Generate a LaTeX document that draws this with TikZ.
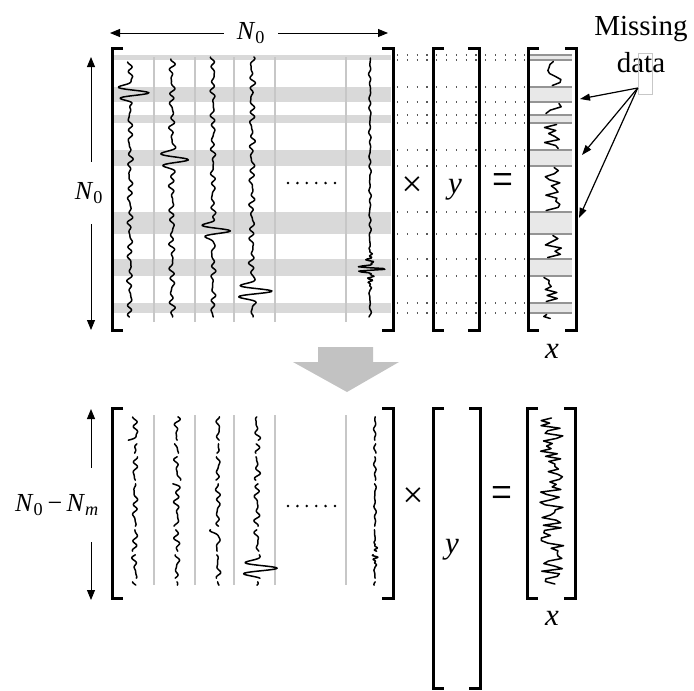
\documentclass[tikz,border=0pt]{standalone}
\usepackage{fontspec}
\setmainfont{Liberation Serif}
\usetikzlibrary{arrows.meta}

\newcommand\Nsym[1]{\textit{N}\textsubscript{#1}}

% removed rows (missing data) of the full matrix, top coordinates
\newcommand\bandlist{55/60,87/102,115/123,150/166,212/234,259/276,303/313}
% kept pieces of each column: start/end/vertical shift into the reduced matrix
\newcommand\keptlist{60/87/355,102/115/340,123/150/332,166/212/316,234/259/294,276/303/277,313/320/267}

\tikzset{
  declare function={
    wav(\vt,\vc,\va,\vk,\vw)=\va*exp(-min(((\vt-\vc)/\vw)*((\vt-\vc)/\vw),12))*cos(max(min(\vt-\vc,60),-60)*\vk);
    nz(\vt,\vn,\vp)=\vn*(sin((\vt-40)*31+\vp)+0.7*sin((\vt-40)*43+2*\vp)+0.6*sin((\vt-40)*13+3*\vp));
  },
  trace/.style={line width=1.5pt, line join=round, line cap=round},
  brk/.style={line width=3pt, line join=miter},
  guide/.style={draw=black!22, line width=1.4pt},
  band/.style={fill=black!15},
  xband/.style={fill=black!9},
  xbandedge/.style={draw=black!42, line width=1.3pt},
  dotrow/.style={draw=black!65, line width=1.2pt, dash pattern=on 1.2pt off 8.6pt},
  dimarrow/.style={-{Triangle[length=10pt,width=8pt]}, line width=1pt},
  ptrarrow/.style={-{Triangle[length=10pt,width=7pt]}, line width=1.2pt},
  lbl/.style={font=\fontsize{26}{31}\selectfont, inner sep=0pt},
  opsym/.style={font=\fontsize{37}{40}\selectfont, inner sep=0pt},
  vecname/.style={font=\fontsize{31}{36}\selectfont\itshape, inner sep=0pt},
}

% bracket pairs: x left, x right, y top, y bottom
\newcommand\brackets[4]{%
  \draw[brk] (#1+11,#3) -- (#1,#3) -- (#1,#4) -- (#1+11,#4);
  \draw[brk] (#2-11,#3) -- (#2,#3) -- (#2,#4) -- (#2-11,#4);
}

% one full column: x0, start, wavelet centre, amplitude, frequency, width, noise, phase, burst
\newcommand\toptrace[9]{%
  \draw[trace] plot[domain=#2:317, samples=300, variable=\vt]
    ({#1+wav(\vt,#3,#4,#5,#6)+nz(\vt,#7,#8)+wav(\vt,#3,#9,95,12)},{\vt});
}
% the same column with the missing rows taken out
\newcommand\bottrace[9]{%
  \foreach \ya/\yb/\sh in \keptlist {%
    \pgfmathsetmacro\lo{max(\ya+1.8,#2)}%
    \pgfmathsetmacro\hi{\yb-1.8}%
    \draw[trace] plot[domain=\lo:\hi, samples=50, variable=\vt]
      ({#1+5+wav(\vt,#3,#4,#5,#6)+nz(\vt,#7,#8)+wav(\vt,#3,#9,95,12)},{\vt+\sh});
  }%
}

\begin{document}
\begin{tikzpicture}[x=1pt,y=-1pt]
\useasboundingbox (0,0) rectangle (694,691);

% ---------------- full system ----------------
% missing rows shaded across the matrix
\foreach \ya/\yb in \bandlist { \fill[band] (113,\ya) rectangle (391,\yb); }
% column separators
\foreach \xx in {154,195,234,275,346} { \draw[guide] (\xx,57) -- (\xx,322); }
% columns
\toptrace{130}{62}{93}{19}{28}{8}{1.4}{0}{0}
\toptrace{172}{59}{160}{18}{28}{8}{1.5}{60}{0}
\toptrace{213}{57}{231}{19}{28}{8}{1.3}{120}{0}
\toptrace{252}{57}{291}{19}{28}{8}{1.5}{200}{0}
\toptrace{370}{58}{269}{12}{60}{6}{0.6}{300}{5}
\foreach \i in {0,...,5} { \fill (288+\i*9.4,183) circle (1.4pt); }

% rows carried across the product
\foreach \ya/\yb in \bandlist {
  \draw[dotrow] (397,\ya) -- (525,\ya);
  \draw[dotrow] (397,\yb) -- (525,\yb);
}
% observed vector with gaps
\foreach \ya/\yb in \bandlist {
  \fill[xband] (530,\ya) rectangle (572,\yb);
  \draw[xbandedge] (530,\ya) -- (572,\ya);
  \draw[xbandedge] (530,\yb) -- (572,\yb);
}
\pgfmathsetseed{11}
\foreach \ya/\yb/\sh in \keptlist {
  \pgfmathsetmacro\lo{\ya+1.5}
  \pgfmathsetmacro\hi{\yb-1.5}
  \pgfmathtruncatemacro\ns{max(3,(\yb-\ya)/3)}
  \draw[trace] plot[domain=\lo:\hi, samples=\ns, variable=\vt] ({553+10*rand},{\vt});
}

\brackets{112}{393}{48}{330}
\brackets{433}{479}{48}{330}
\brackets{528}{576}{48}{330}

\node[opsym] (times1) at (412,187) {×};
\node[vecname] (yvec1) at (455,190) {y};
\node[opsym] (eq1) at (503,185) {\scalebox{1}[1.3]{=}};
\node[vecname] (xvec1) at (552,351) {x};

% dimensions
\node[lbl, minimum width=54pt] (ntop) at (251,33) {\Nsym{0}};
\coordinate (ntopL) at (110,33);
\coordinate (ntopR) at (388,33);
\draw[dimarrow] (ntop.west) -- (ntopL);
\draw[dimarrow] (ntop.east) -- (ntopR);

\node[lbl, minimum height=62pt] (nleft) at (89,193) {\Nsym{0}};
\coordinate (nlt) at (91,57);
\coordinate (nlb) at (91,330);
\draw[dimarrow] (nleft.north -| nlt) -- (nlt);
\draw[dimarrow] (nleft.south -| nlb) -- (nlb);

% missing data callout
\node[font=\fontsize{29}{37}\selectfont, align=center, inner sep=0pt] (md) at (641,45) {Missing\\data};
\node[draw=black!22, line width=0.6pt, minimum width=14pt, minimum height=41pt, inner sep=0pt] (mdbox) at (645,73.5) {};
\coordinate (miss1) at (580,99);
\coordinate (miss2) at (582,155);
\coordinate (miss3) at (579,218);
\draw[ptrarrow] ([yshift=-14.5pt]mdbox.west) -- (miss1);
\draw[ptrarrow] ([yshift=-14.5pt]mdbox.west) -- (miss2);
\draw[ptrarrow] ([yshift=-14.5pt]mdbox.west) -- (miss3);

% ---------------- step down ----------------
\fill[black!24] (318,347) -- (373,347) -- (373,362) -- (399,362) -- (347,392) -- (293,362) -- (318,362) -- cycle;

% ---------------- reduced system ----------------
\foreach \xx in {154,195,234,275,346} { \draw[guide] (\xx,415) -- (\xx,585); }
\bottrace{130}{62}{93}{19}{28}{8}{1.4}{0}{0}
\bottrace{172}{59}{160}{18}{28}{8}{1.5}{60}{0}
\bottrace{213}{57}{231}{19}{28}{8}{1.3}{120}{0}
\bottrace{252}{57}{291}{19}{28}{8}{1.5}{200}{0}
\bottrace{370}{58}{269}{12}{60}{6}{0.6}{300}{5}
\foreach \i in {0,...,5} { \fill (288+\i*9.4,506) circle (1.4pt); }

\pgfmathsetseed{5}
\draw[trace] plot[domain=418:584, samples=66, variable=\vt] ({552+12*rand},{\vt});

\brackets{112}{393}{408}{598}
\brackets{433}{480}{408}{688}
\brackets{527}{575}{408}{598}

\node[opsym] (times2) at (413,498) {×};
\node[vecname] (yvec2) at (452,550) {y};
\node[opsym] (eq2) at (502,498) {\scalebox{1}[1.3]{=}};
\node[vecname] (xvec2) at (552,618) {x};

\node[lbl, minimum height=74pt] (nbot) at (57,505) {\Nsym{0}\,−\,\Nsym{\textit{m}}};
\coordinate (nbt) at (91,409);
\coordinate (nbb) at (91,600);
\draw[dimarrow] (nbot.north -| nbt) -- (nbt);
\draw[dimarrow] (nbot.south -| nbb) -- (nbb);
\end{tikzpicture}
\end{document}
